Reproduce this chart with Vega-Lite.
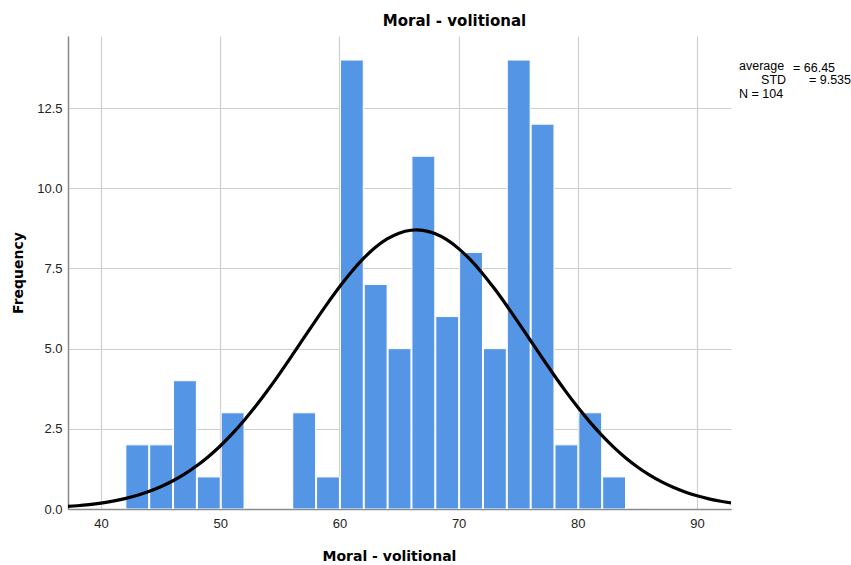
{
  "$schema": "https://vega.github.io/schema/vega-lite/v6.json",
  "autosize": {"type": "none"},
  "width": 663,
  "height": 473,
  "padding": {"left": 68, "top": 36, "right": 120, "bottom": 56},
  "background": "white",
  "title": {
    "text": "Moral - volitional",
    "font": "DejaVu Sans",
    "fontSize": 15,
    "fontWeight": "bold",
    "color": "#000000",
    "anchor": "middle",
    "dx": 55,
    "offset": 7
  },
  "config": {
    "view": {"stroke": null},
    "axis": {
      "labelFont": "Liberation Sans",
      "labelFontSize": 13,
      "labelColor": "#222222",
      "titleFont": "DejaVu Sans",
      "titleFontSize": 14,
      "titleFontWeight": "bold",
      "titleColor": "#000000",
      "gridColor": "#cfcfcf",
      "gridWidth": 1.2,
      "domainColor": "#8a8a8a",
      "domainWidth": 1.5,
      "ticks": false
    },
    "text": {"font": "Liberation Sans", "fontSize": 12.5, "color": "#000000", "align": "left", "baseline": "middle"}
  },
  "datasets": {
    "counts": [
      {"bin_start": 42, "bin_end": 44, "count": 2},
      {"bin_start": 44, "bin_end": 46, "count": 2},
      {"bin_start": 46, "bin_end": 48, "count": 4},
      {"bin_start": 48, "bin_end": 50, "count": 1},
      {"bin_start": 50, "bin_end": 52, "count": 3},
      {"bin_start": 56, "bin_end": 58, "count": 3},
      {"bin_start": 58, "bin_end": 60, "count": 1},
      {"bin_start": 60, "bin_end": 62, "count": 14},
      {"bin_start": 62, "bin_end": 64, "count": 7},
      {"bin_start": 64, "bin_end": 66, "count": 5},
      {"bin_start": 66, "bin_end": 68, "count": 11},
      {"bin_start": 68, "bin_end": 70, "count": 6},
      {"bin_start": 70, "bin_end": 72, "count": 8},
      {"bin_start": 72, "bin_end": 74, "count": 5},
      {"bin_start": 74, "bin_end": 76, "count": 14},
      {"bin_start": 76, "bin_end": 78, "count": 12},
      {"bin_start": 78, "bin_end": 80, "count": 2},
      {"bin_start": 80, "bin_end": 82, "count": 3},
      {"bin_start": 82, "bin_end": 84, "count": 1}
    ],
    "normal": [
      {"score": 37, "freq": 0.0738},
      {"score": 38, "freq": 0.1015},
      {"score": 39, "freq": 0.1380},
      {"score": 40, "freq": 0.1857},
      {"score": 41, "freq": 0.2470},
      {"score": 42, "freq": 0.3250},
      {"score": 43, "freq": 0.4229},
      {"score": 44, "freq": 0.5443},
      {"score": 45, "freq": 0.6930},
      {"score": 46, "freq": 0.8726},
      {"score": 47, "freq": 1.0867},
      {"score": 48, "freq": 1.3386},
      {"score": 49, "freq": 1.6307},
      {"score": 50, "freq": 1.9650},
      {"score": 51, "freq": 2.3417},
      {"score": 52, "freq": 2.7602},
      {"score": 53, "freq": 3.2180},
      {"score": 54, "freq": 3.7108},
      {"score": 55, "freq": 4.2316},
      {"score": 56, "freq": 4.7735},
      {"score": 57, "freq": 5.3259},
      {"score": 58, "freq": 5.8766},
      {"score": 59, "freq": 6.4134},
      {"score": 60, "freq": 6.9228},
      {"score": 61, "freq": 7.3911},
      {"score": 62, "freq": 7.8048},
      {"score": 63, "freq": 8.1513},
      {"score": 64, "freq": 8.4201},
      {"score": 65, "freq": 8.6027},
      {"score": 66, "freq": 8.6930},
      {"score": 66.45, "freq": 8.7027},
      {"score": 67, "freq": 8.6882},
      {"score": 68, "freq": 8.5884},
      {"score": 69, "freq": 8.3970},
      {"score": 70, "freq": 8.1200},
      {"score": 71, "freq": 7.7661},
      {"score": 72, "freq": 7.3466},
      {"score": 73, "freq": 6.8735},
      {"score": 74, "freq": 6.3608},
      {"score": 75, "freq": 5.8218},
      {"score": 76, "freq": 5.2705},
      {"score": 77, "freq": 4.7186},
      {"score": 78, "freq": 4.1784},
      {"score": 79, "freq": 3.6601},
      {"score": 80, "freq": 3.1705},
      {"score": 81, "freq": 2.7166},
      {"score": 82, "freq": 2.3022},
      {"score": 83, "freq": 1.9297},
      {"score": 84, "freq": 1.5996},
      {"score": 85, "freq": 1.3116},
      {"score": 86, "freq": 1.0637},
      {"score": 87, "freq": 0.8531},
      {"score": 88, "freq": 0.6768},
      {"score": 89, "freq": 0.5310},
      {"score": 90, "freq": 0.4122},
      {"score": 91, "freq": 0.3164},
      {"score": 92, "freq": 0.2402},
      {"score": 93, "freq": 0.1803}
    ],
    "single": [{}]
  },
  "layer": [
    {
      "data": {"name": "counts"},
      "mark": {"type": "bar", "color": "#5595e5", "stroke": "#ffffff", "strokeWidth": 1, "clip": true},
      "encoding": {
        "x": {
          "field": "bin_start",
          "type": "quantitative",
          "bin": {"binned": true, "step": 2},
          "scale": {"domain": [37.23, 92.85], "nice": false, "zero": false},
          "axis": {
            "values": [40, 50, 60, 70, 80, 90],
            "grid": true,
            "labelPadding": 8,
            "title": "Moral - volitional",
            "titleAnchor": "start",
            "titleX": 254,
            "titleY": 40,
            "titleBaseline": "top"
          }
        },
        "x2": {"field": "bin_end"},
        "y": {
          "field": "count",
          "type": "quantitative",
          "scale": {"domain": [0, 14.75], "nice": false},
          "axis": {
            "values": [0, 2.5, 5, 7.5, 10, 12.5],
            "format": ".1f",
            "grid": true,
            "labelPadding": 6,
            "title": "Frequency",
            "titleX": -50,
            "titleBaseline": "middle"
          }
        }
      }
    },
    {
      "data": {"name": "normal"},
      "mark": {"type": "line", "color": "#000000", "strokeWidth": 3.2, "interpolate": "monotone", "clip": true},
      "encoding": {
        "x": {"field": "score", "type": "quantitative"},
        "y": {"field": "freq", "type": "quantitative"}
      }
    },
    {
      "data": {"name": "single"},
      "mark": {"type": "text", "text": "average"},
      "encoding": {"x": {"datum": 93.52}, "y": {"datum": 13.8}}
    },
    {
      "data": {"name": "single"},
      "mark": {"type": "text", "text": "= 66.45"},
      "encoding": {"x": {"datum": 98.05}, "y": {"datum": 13.76}}
    },
    {
      "data": {"name": "single"},
      "mark": {"type": "text", "text": "STD"},
      "encoding": {"x": {"datum": 95.37}, "y": {"datum": 13.38}}
    },
    {
      "data": {"name": "single"},
      "mark": {"type": "text", "text": "= 9.535"},
      "encoding": {"x": {"datum": 99.39}, "y": {"datum": 13.38}}
    },
    {
      "data": {"name": "single"},
      "mark": {"type": "text", "text": "N = 104"},
      "encoding": {"x": {"datum": 93.52}, "y": {"datum": 12.95}}
    }
  ]
}
